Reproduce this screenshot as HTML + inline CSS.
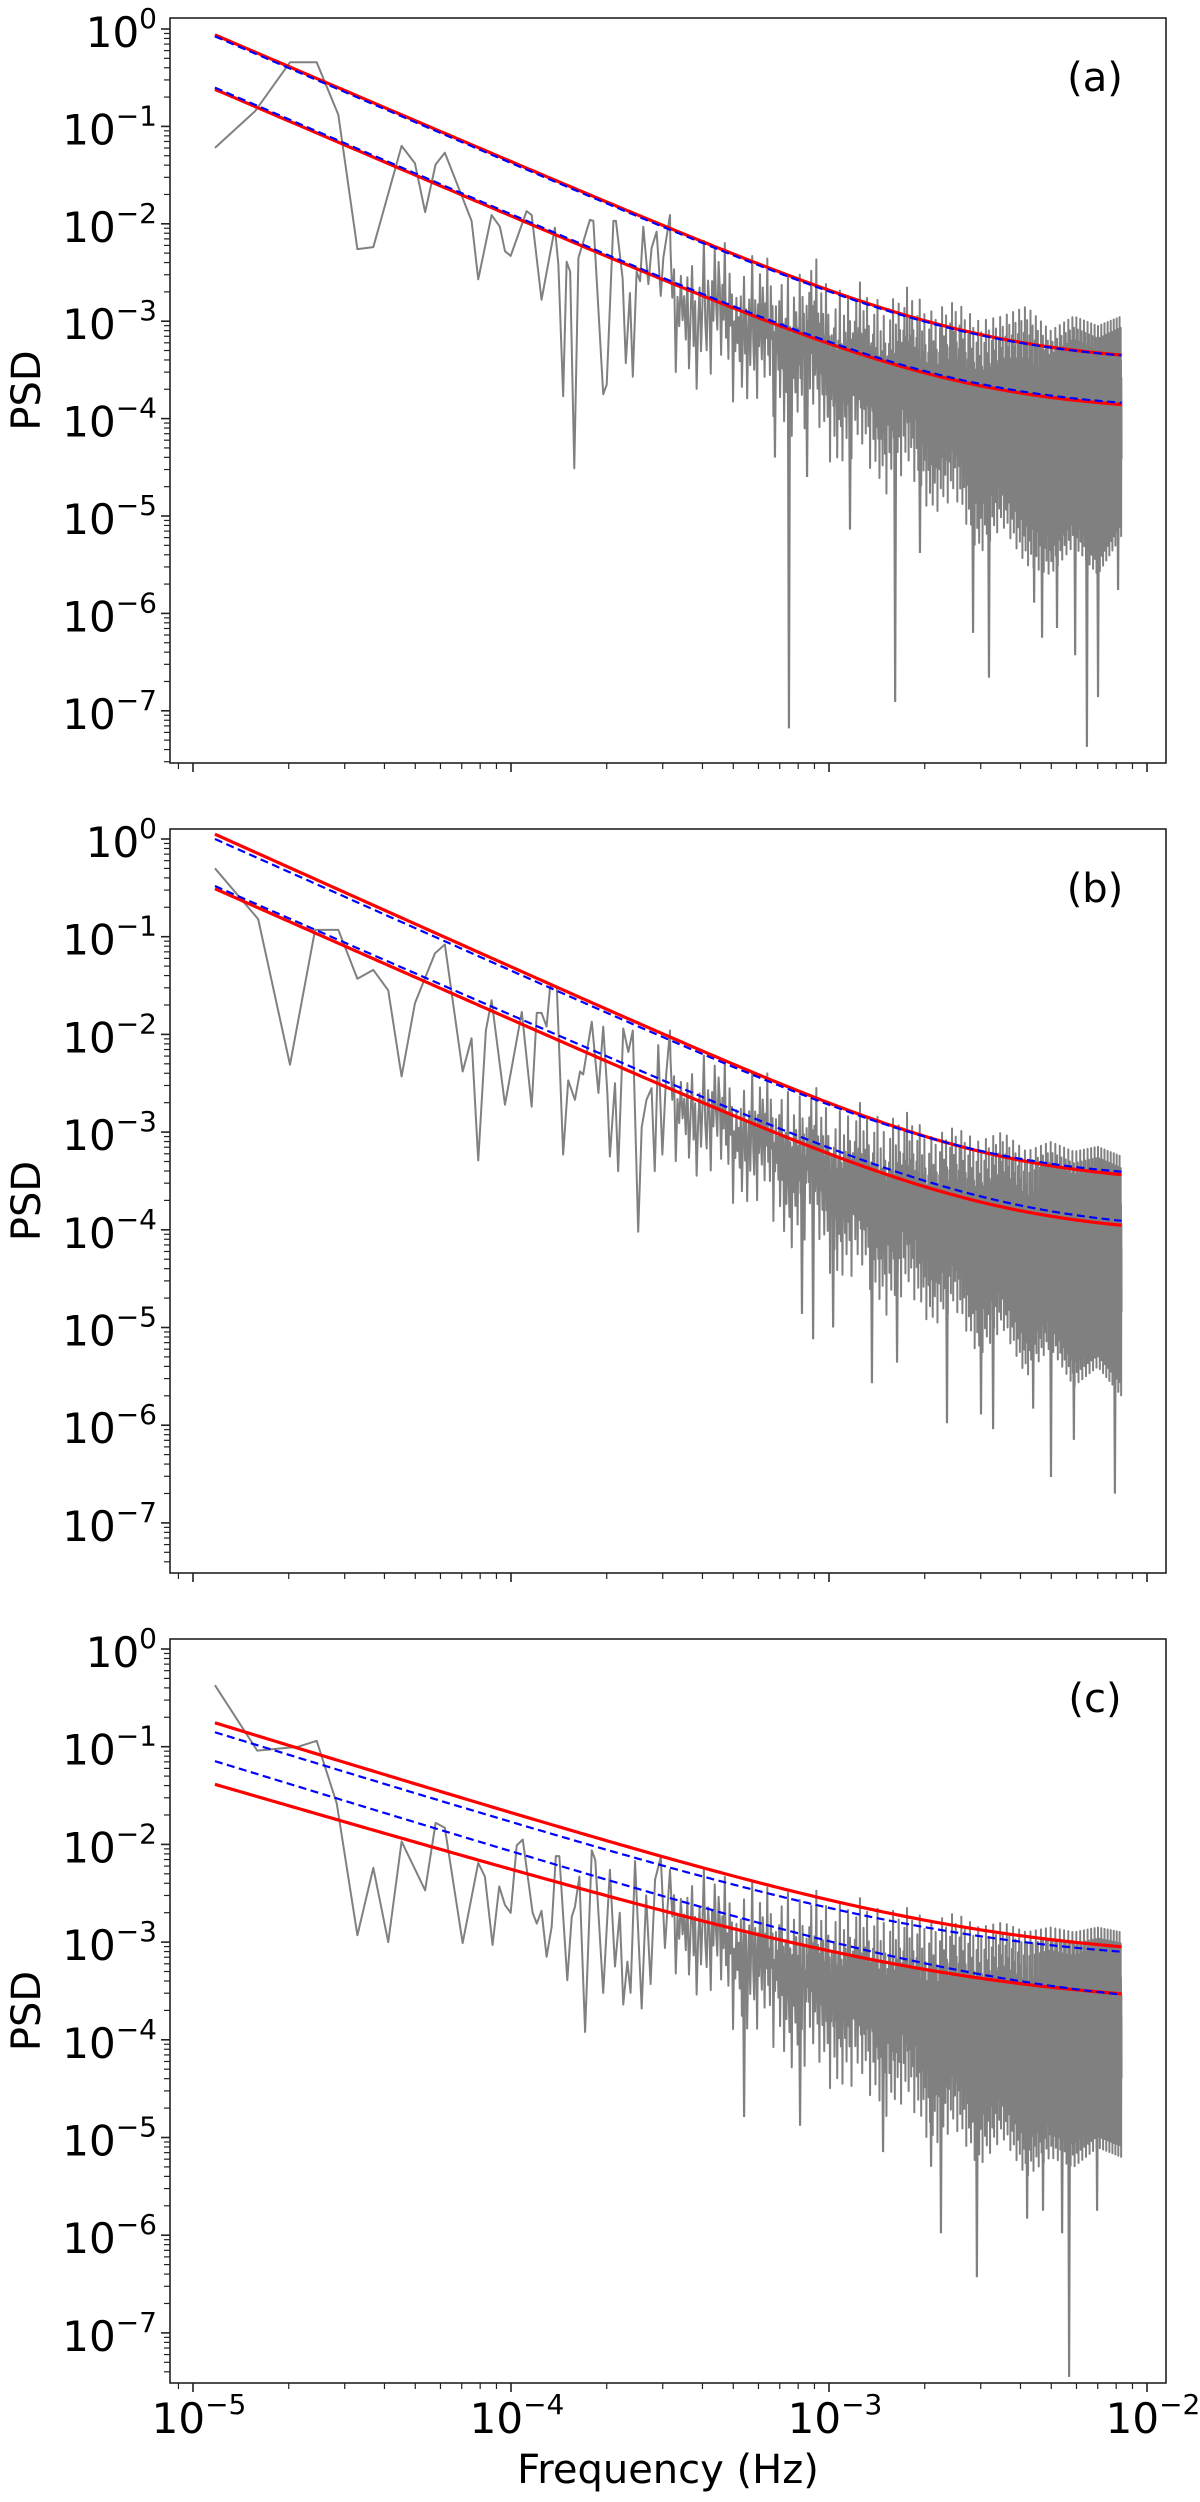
<!DOCTYPE html>
<html>
<head>
<meta charset="utf-8">
<style>
  html, body { margin: 0; padding: 0; background: #fff; }
  svg { display: block; font-family: "DejaVu Sans", "Liberation Sans", sans-serif; }
</style>
</head>
<body>
<svg id="fig" width="1200" height="2502" viewBox="0 0 1200 2502" xmlns="http://www.w3.org/2000/svg">
  <rect x="0" y="0" width="1200" height="2502" fill="#fff"></rect>
  <text x="668" y="2483" font-size="40" text-anchor="middle" fill="#000">Frequency (Hz)</text>
</svg>
<script>
// ---------- data (log10 frequency / log10 PSD) ----------
const lowLfA = [-4.931,-4.805,-4.695,-4.611,-4.543,-4.483,-4.433,-4.344,-4.302,-4.270,-4.237,-4.208,-4.124,-4.103,-4.061,-4.035,-4.019,-4.001,-3.951,-3.935,-3.904,-3.862,-3.851,-3.836,-3.825,-3.814,-3.801,-3.788,-3.752,-3.741,-3.710,-3.699,-3.678,-3.670,-3.649,-3.639,-3.626,-3.617,-3.605,-3.594,-3.584,-3.568,-3.558,-3.542,-3.529,-3.521,-3.500];
const lowLpA = [-1.22,-0.845,-0.342,-0.342,-0.88,-2.26,-2.24,-1.20,-1.38,-1.88,-1.39,-1.27,-1.97,-2.57,-1.91,-2.03,-2.28,-2.33,-1.87,-1.91,-2.78,-2.04,-2.42,-3.77,-2.39,-2.49,-4.51,-2.35,-1.96,-1.97,-3.75,-3.65,-1.97,-1.97,-2.56,-3.43,-2.71,-3.57,-2.49,-2.59,-2.03,-2.62,-2.25,-2.08,-2.74,-2.35,-1.91];
const bandLf = [-3.50,-3.425,-3.35,-3.276,-3.201,-3.126,-3.052,-2.977,-2.902,-2.827,-2.753,-2.678,-2.603,-2.529,-2.454,-2.379,-2.304,-2.23,-2.155,-2.08];
const bandHiA = [-1.95,-2.3,-2.0,-2.4,-2.25,-2.55,-2.3,-2.7,-2.6,-2.85,-2.65,-2.9,-2.8,-3.0,-2.95,-2.85,-3.1,-2.95,-3.05,-2.95];
const bandLoA = [-3.4,-3.9,-3.5,-4.0,-3.8,-4.3,-4.0,-4.6,-4.3,-4.8,-4.5,-5.0,-4.8,-5.4,-5.1,-5.5,-5.6,-5.3,-5.6,-5.2];
const spikeLfA = [-3.126,-2.792,-2.497,-2.189,-2.154,-2.226,-2.330,-2.547,-2.355,-2.283,-2.091,-2.934,-3.069,-2.714,-3.170];
const spikeLpA = [-7.18,-6.91,-6.66,-7.37,-6.86,-6.43,-6.25,-6.20,-5.89,-6.15,-5.76,-5.14,-4.60,-5.38,-4.40];

const lowLfB = [-4.931,-4.795,-4.695,-4.616,-4.543,-4.483,-4.433,-4.386,-4.344,-4.302,-4.239,-4.208,-4.152,-4.124,-4.103,-4.079,-4.061,-4.019,-3.966,-3.935,-3.919,-3.904,-3.888,-3.877,-3.856,-3.836,-3.820,-3.799,-3.783,-3.773,-3.746,-3.725,-3.710,-3.697,-3.689,-3.673,-3.663,-3.647,-3.631,-3.617,-3.600,-3.589,-3.574,-3.558,-3.548,-3.537,-3.524,-3.512,-3.500];
const lowLpB = [-0.30,-0.82,-2.31,-0.93,-0.93,-1.43,-1.34,-1.55,-2.43,-1.68,-1.17,-1.08,-2.38,-2.04,-3.29,-1.96,-1.65,-2.72,-1.77,-2.74,-1.78,-1.78,-1.92,-1.51,-1.51,-3.23,-2.47,-2.67,-2.38,-2.41,-1.87,-2.60,-1.92,-2.60,-3.25,-2.50,-3.40,-1.94,-2.18,-1.96,-4.02,-2.95,-2.67,-2.55,-3.40,-2.11,-3.23,-2.41,-1.96];
const bandHiB = [-2.0,-2.3,-2.1,-2.45,-2.3,-2.6,-2.5,-2.8,-2.7,-2.9,-2.8,-3.05,-2.95,-3.1,-3.0,-3.2,-3.1,-3.2,-3.15,-3.25];
const bandLoB = [-3.2,-3.6,-3.4,-3.9,-3.7,-4.3,-4.0,-4.6,-4.4,-4.9,-4.6,-5.0,-4.8,-5.3,-5.0,-5.5,-5.2,-5.6,-5.4,-5.7];
const spikeLfB = [-2.101,-2.302,-2.629,-2.484,-2.230,-2.865,-2.786,-3.050,-3.085,-2.987,-2.522,-2.358];
const spikeLpB = [-6.70,-6.53,-5.98,-6.04,-6.15,-5.57,-5.36,-5.12,-4.86,-5.0,-5.89,-5.83];

const lowLfC = [-4.931,-4.798,-4.669,-4.611,-4.548,-4.483,-4.433,-4.386,-4.344,-4.270,-4.237,-4.208,-4.152,-4.103,-4.082,-4.058,-4.037,-4.019,-4.001,-3.982,-3.963,-3.932,-3.919,-3.904,-3.888,-3.872,-3.859,-3.848,-3.823,-3.809,-3.799,-3.785,-3.767,-3.746,-3.735,-3.710,-3.689,-3.673,-3.658,-3.647,-3.634,-3.624,-3.610,-3.589,-3.575,-3.561,-3.547,-3.529,-3.516,-3.500];
const lowLpC = [-0.37,-1.04,-1.00,-0.94,-1.58,-2.93,-2.24,-3.00,-1.97,-2.47,-1.78,-1.83,-3.01,-2.19,-2.33,-3.03,-2.43,-2.62,-2.70,-2.01,-1.95,-2.70,-2.81,-2.68,-3.15,-2.84,-2.12,-2.12,-3.39,-2.74,-2.64,-2.33,-3.92,-2.06,-2.16,-3.52,-2.26,-3.25,-2.70,-3.64,-3.20,-3.52,-2.17,-3.68,-2.52,-3.43,-2.36,-2.13,-3.06,-2.26];
const bandHiC = [-2.15,-2.3,-2.2,-2.4,-2.35,-2.5,-2.45,-2.6,-2.55,-2.7,-2.65,-2.8,-2.7,-2.85,-2.8,-2.9,-2.85,-2.9,-2.85,-2.9];
const bandLoC = [-3.2,-3.7,-3.5,-4.1,-3.9,-4.4,-4.2,-4.6,-4.4,-4.8,-4.6,-5.1,-4.9,-5.3,-5.0,-5.4,-5.2,-5.3,-5.1,-5.2];
const spikeLfC = [-2.245,-2.535,-2.648,-2.267,-2.377,-2.327,-2.157,-3.267,-3.091,-2.830,-2.679];
const spikeLpC = [-7.45,-6.43,-5.98,-5.98,-5.83,-5.75,-5.75,-4.79,-4.88,-5.15,-5.30];

// model curves: amplitude at first frequency, slope, constant floor
const modelA = { redHi:[0.87,1.4,3.6e-4], redLo:[0.24,1.4,1.15e-4], blueHi:[0.84,1.4,3.6e-4], blueLo:[0.25,1.4,1.2e-4] };
const modelB = { redHi:[1.12,1.46,2.9e-4], redLo:[0.31,1.44,8.7e-5], blueHi:[1.0,1.45,3.2e-4], blueLo:[0.33,1.42,9.4e-5] };
const modelC = { redHi:[0.175,1.0,6.5e-4], redLo:[0.041,0.95,2.15e-4], blueHi:[0.14,1.0,6.0e-4], blueLo:[0.071,1.0,1.9e-4] };

const yMajorTicks = [0,-1,-2,-3,-4,-5,-6,-7];
const xMajorTicks = [-5,-4,-3,-2];
const xTickLabels = ["−5","−4","−3","−2"];
const yTickLabels = ["0","−1","−2","−3","−4","−5","−6","−7"];

// ---------- rendering ----------
const NS = "http://www.w3.org/2000/svg";
const svg = document.getElementById('fig');
const XL = 170, XR = 1166, XMIN = -5.0723, XMAX = -1.9403;
const F1 = 1.157e-5, LF1 = -4.931, LFEND = -2.08;
const W = [0.62,0.35,0.78,0.2,0.55,0.9,0.4,0.68,0.1,0.5,0.73,0.3,0.6,1.0,0.45,0.25,0.7,0.52,0.05,0.66,0.38,0.85,0.48,0.28,0.75,0.58,0.15,0.64,0.42,0.95,0.33,0.57,0.22,0.8,0.47,0.69,0.0,0.54,0.36,0.72,0.44];
function X(lf){ return XL + (lf - XMIN)/(XMAX - XMIN)*(XR - XL); }
function mk(tag, attrs){ const e = document.createElementNS(NS, tag); for (const k in attrs) e.setAttribute(k, attrs[k]); return e; }
function interp(xs, ys, x){
  if (x <= xs[0]) return ys[0];
  for (let i=1;i<xs.length;i++){ if (x <= xs[i]) { const t=(x-xs[i-1])/(xs[i]-xs[i-1]); return ys[i-1]+t*(ys[i]-ys[i-1]); } }
  return ys[ys.length-1];
}

function panel(cfg){
  const g = mk('g', {});
  
  
  svg.appendChild(g);
  const ymax = (cfg.p0 - cfg.top)/cfg.dec, ymin = (cfg.p0 - cfg.bottom)/cfg.dec;
  const Y = lp => cfg.top + (ymax - lp)/(ymax - ymin)*(cfg.bottom - cfg.top);

  const clip = mk('clipPath', {id:'clip'+cfg.id});
  clip.appendChild(mk('rect', {x:XL, y:cfg.top, width:XR-XL, height:cfg.bottom-cfg.top}));
  g.appendChild(clip);

  let d = '';
  for (let i=0;i<cfg.lowLf.length;i++) d += (i?'L':'M') + X(cfg.lowLf[i]).toFixed(2) + ' ' + Y(cfg.lowLp[i]).toFixed(2);
  const lastLf = cfg.lowLf[cfg.lowLf.length-1];
  for (let i=0;i<2200;i++){
    const lf = Math.log10(F1*(1 + i/2.8));
    if (lf <= lastLf || lf > LFEND) continue;
    const hi = interp(bandLf, cfg.bandHi, lf), lo = interp(bandLf, cfg.bandLo, lf);
    const v = lo + (hi - lo)*W[i % W.length];
    d += 'L' + X(lf).toFixed(2) + ' ' + Y(v).toFixed(2);
  }
  const series = mk('path', {d:d, fill:'none', stroke:'#808080', 'stroke-width':2.0, 'stroke-linejoin':'round', 'clip-path':'url(#clip'+cfg.id+')'});
  
  
  g.appendChild(series);

  for (let i=0;i<cfg.spikeLf.length;i++){
    const lf = cfg.spikeLf[i];
    const mid = (interp(bandLf, cfg.bandHi, lf) + interp(bandLf, cfg.bandLo, lf))/2;
    const sp = mk('path', {d:'M'+(X(lf)-1)+' '+Y(mid)+'L'+X(lf)+' '+Y(cfg.spikeLp[i])+'L'+(X(lf)+1)+' '+Y(mid), fill:'none', stroke:'#808080', 'stroke-width':2.2});
    
    
    g.appendChild(sp);
  }

  function curve(p, color, dash, width, name){
    let dd = '';
    for (let k=0;k<=240;k++){
      const lf = LF1 + (LFEND - LF1)*k/240;
      const v = Math.log10(p[0]*Math.pow(10, -p[1]*(lf - LF1)) + p[2]);
      dd += (k?'L':'M') + X(lf).toFixed(2) + ' ' + Y(v).toFixed(2);
    }
    const c = mk('path', {d:dd, fill:'none', stroke:color, 'stroke-width':width});
    if (dash) c.setAttribute('stroke-dasharray', dash);
    
    
    g.appendChild(c);
  }
  curve(cfg.model.redHi, '#ff0000', null, 3.2, 'model-upper-red');
  curve(cfg.model.redLo, '#ff0000', null, 3.2, 'model-lower-red');
  curve(cfg.model.blueHi, '#0000ff', '8 4.5', 2.2, 'model-upper-blue-dashed');
  curve(cfg.model.blueLo, '#0000ff', '8 4.5', 2.2, 'model-lower-blue-dashed');

  const frame = mk('rect', {x:XL, y:cfg.top, width:XR-XL, height:cfg.bottom-cfg.top, fill:'none', stroke:'#222', 'stroke-width':1.6});
  
  
  g.appendChild(frame);

  yMajorTicks.forEach((t, idx) => {
    const y = Y(t);
    const tk = mk('line', {x1:XL-9, x2:XL, y1:y, y2:y, stroke:'#222', 'stroke-width':1.6});
    
    
    g.appendChild(tk);
    const lab = mk('text', {x:157, y:y+18, 'font-size':42, 'text-anchor':'end', fill:'#000'});
    
    
    lab.textContent = '10';
    const sup = mk('tspan', {dy:-19, 'font-size':28});
    sup.textContent = yTickLabels[idx];
    lab.appendChild(sup);
    g.appendChild(lab);
  });
  for (let n=-8;n<=0;n++) for (let k=2;k<=9;k++){
    const lp = n + Math.log10(k);
    if (lp < ymin || lp > ymax) continue;
    const y = Y(lp);
    const tk = mk('line', {x1:XL-6, x2:XL, y1:y, y2:y, stroke:'#222', 'stroke-width':1.2});
    
    
    g.appendChild(tk);
  }
  xMajorTicks.forEach((t, idx) => {
    const x = X(t);
    const tk = mk('line', {x1:x, x2:x, y1:cfg.bottom, y2:cfg.bottom+9, stroke:'#222', 'stroke-width':1.6});
    
    
    g.appendChild(tk);
    if (cfg.xlabels){
      const lab = mk('text', {x:x+6, y:cfg.bottom+50, 'font-size':42, 'text-anchor':'middle', fill:'#000'});
      
      
      lab.textContent = '10';
      const sup = mk('tspan', {dy:-19, 'font-size':28});
      sup.textContent = xTickLabels[idx];
      lab.appendChild(sup);
      g.appendChild(lab);
    }
  });
  for (let n=-6;n<=-2;n++) for (let k=2;k<=9;k++){
    const lf = n + Math.log10(k);
    if (lf < XMIN || lf > XMAX) continue;
    const x = X(lf);
    const tk = mk('line', {x1:x, x2:x, y1:cfg.bottom, y2:cfg.bottom+6, stroke:'#222', 'stroke-width':1.2});
    
    
    g.appendChild(tk);
  }
  const yt = mk('text', {transform:'translate(40,'+((cfg.top+cfg.bottom)/2)+') rotate(-90)', 'font-size':40, 'text-anchor':'middle', fill:'#000'});
  
  
  yt.textContent = 'PSD';
  g.appendChild(yt);
  const pl = mk('text', {x:1095, y:cfg.top+73, 'font-size':40, 'text-anchor':'middle', fill:'#000'});
  
  
  pl.textContent = '(' + cfg.id + ')';
  g.appendChild(pl);
}

panel({id:'a', top:18, bottom:763, p0:29, dec:97.4, lowLf:lowLfA, lowLp:lowLpA, bandHi:bandHiA, bandLo:bandLoA, spikeLf:spikeLfA, spikeLp:spikeLpA, model:modelA, xlabels:false});
panel({id:'b', top:829, bottom:1573, p0:839, dec:97.7, lowLf:lowLfB, lowLp:lowLpB, bandHi:bandHiB, bandLo:bandLoB, spikeLf:spikeLfB, spikeLp:spikeLpB, model:modelB, xlabels:false});
panel({id:'c', top:1639, bottom:2383, p0:1649, dec:97.7, lowLf:lowLfC, lowLp:lowLpC, bandHi:bandHiC, bandLo:bandLoC, spikeLf:spikeLfC, spikeLp:spikeLpC, model:modelC, xlabels:true});
</script>
</body>
</html>
